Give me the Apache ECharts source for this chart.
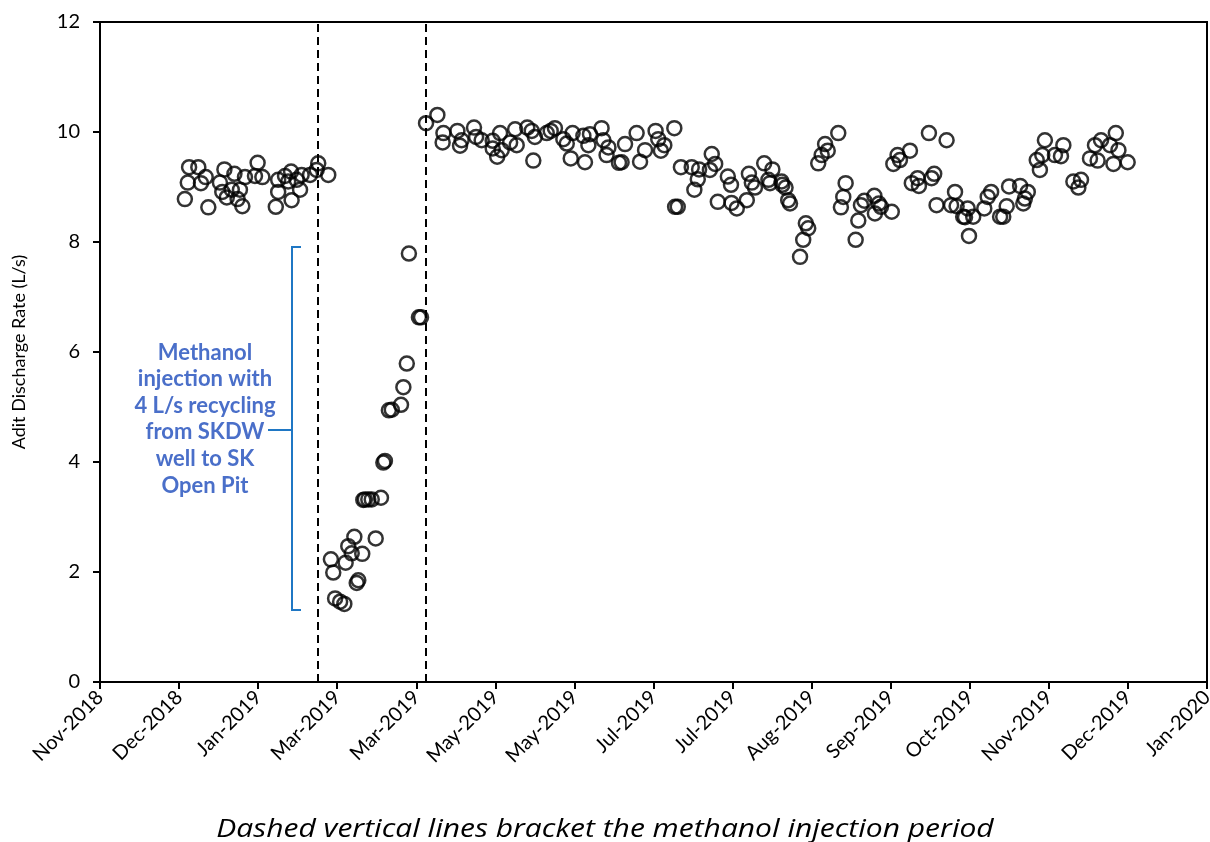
<!DOCTYPE html>
<html>
<head>
<meta charset="utf-8">
<script src="https://cdn.jsdelivr.net/npm/echarts@6/dist/echarts.min.js"></script>
<style>
html,body{margin:0;padding:0;background:#fff;}
#c{width:1210px;height:842px;}
</style>
</head>
<body>
<div id="c"></div>
<script>
// x = days from axis start (axis labels every 30 days)
const xTickLabels = ['Nov-2018','Dec-2018','Jan-2019','Mar-2019','Mar-2019','May-2019','May-2019','Jul-2019','Jul-2019','Aug-2019','Sep-2019','Oct-2019','Nov-2019','Dec-2019','Jan-2020'];
const injectionStartDay = 82.7;
const injectionEndDay = 123.7;

const preInjection = [
[33.8,9.36],[37.3,9.36],[33.3,9.08],[32.2,8.78],[38.3,9.07],[40.1,9.18],[41.1,8.63],[45.5,9.08],
[47.2,9.32],[46.4,8.91],[48.1,8.81],[51.0,9.24],[50.0,8.95],[53.1,8.95],[52.2,8.78],[54.0,8.65],
[55.0,9.18],[59.8,9.44],[58.8,9.20],[61.6,9.18],[67.6,9.13],[67.6,8.91],[66.7,8.64],[70.2,9.20],
[72.5,9.28],[71.4,9.10],[72.7,8.76],[74.6,9.13],[75.9,8.95],[76.5,9.22],[79.7,9.22],[82.2,9.31],
[82.8,9.43],[86.6,9.22]
];
const duringInjection = [
[87.6,2.23],[88.5,1.99],[89.2,1.52],[91.1,1.46],[92.7,1.42],[93.2,2.17],[94.2,2.47],[95.5,2.34],
[96.5,2.64],[97.4,1.80],[98.0,1.85],[99.5,2.33],[99.9,3.31],[100.5,3.32],[101.8,3.32],[103.1,3.32],
[104.6,2.61],[106.6,3.35],[107.5,3.99],[108.1,4.02],[109.6,4.94],[110.7,4.95],[114.2,5.04],[115.1,5.36],
[116.4,5.79],[117.2,7.79],[121.0,6.63],[121.8,6.63]
];
const postInjection = [
[123.7,10.16],[128.0,10.31],[130.3,9.98],[130.0,9.81],[135.6,10.02],[137.2,9.85],[136.6,9.75],[141.9,10.08],
[142.7,9.91],[144.8,9.85],[149.0,9.84],[151.8,9.98],[149.0,9.70],[152.4,9.67],[150.7,9.55],[155.6,9.81],
[157.5,10.05],[158.1,9.76],[162.1,10.08],[163.8,10.02],[165.0,9.91],[164.4,9.48],[169.5,9.98],[171.0,10.02],
[172.6,10.07],[177.1,9.79],[175.8,9.87],[179.3,9.98],[178.6,9.52],[183.4,9.93],[184.0,9.45],[185.9,9.96],
[185.3,9.76],[190.3,10.07],[191.0,9.85],[192.2,9.58],[192.9,9.72],[199.2,9.78],[197.9,9.45],[196.9,9.44],
[203.6,9.98],[206.8,9.67],[204.9,9.46],[210.8,10.02],[211.8,9.87],[214.1,9.76],[212.8,9.66],[217.9,10.07],
[218.2,8.64],[219.2,8.64],[220.4,9.36],[224.5,9.36],[227.3,9.32],[226.8,9.14],[225.5,8.95],[232.1,9.60],
[233.4,9.42],[231.4,9.31],[238.2,9.19],[239.4,9.04],[234.4,8.73],[239.6,8.71],[241.6,8.61],[245.4,8.76],
[246.2,9.24],[247.3,9.08],[248.5,8.99],[252.0,9.43],[255.1,9.32],[253.6,9.13],[254.2,9.07],[258.9,9.04],
[258.6,9.10],[260.1,8.99],[261.1,8.76],[261.8,8.70],[265.6,7.73],[266.8,8.04],[267.8,8.34],[268.7,8.25],
[272.5,9.43],[273.8,9.58],[275.1,9.78],[276.1,9.66],[280.1,9.98],[282.9,9.07],[282.0,8.82],[281.1,8.63],
[286.7,8.04],[287.7,8.39],[288.7,8.67],[290.0,8.75],[293.8,8.84],[294.0,8.52],[296.3,8.64],[295.5,8.70],
[300.4,8.55],[301.0,9.42],[302.6,9.58],[303.5,9.49],[307.3,9.66],[308.0,9.07],[310.2,9.16],[310.7,9.02],
[314.5,9.98],[315.5,9.16],[316.5,9.24],[321.2,9.85],[317.4,8.67],[322.9,8.67],[324.4,8.91],[325.0,8.65],
[327.5,8.46],[328.2,8.45],[329.2,8.61],[329.7,8.11],[331.3,8.46],[335.5,8.61],[336.8,8.82],[338.1,8.91],
[341.5,8.46],[342.7,8.46],[344.0,8.65],[344.9,9.01],[349.1,9.02],[352.0,8.91],[350.9,8.79],[350.3,8.70],
[355.4,9.49],[357.5,9.58],[356.6,9.31],[358.5,9.85],[362.3,9.58],[364.6,9.56],[365.5,9.76],[369.3,9.10],
[371.2,8.99],[372.2,9.13],[377.5,9.76],[379.8,9.85],[375.6,9.52],[378.5,9.48],[383.2,9.76],[386.4,9.67],
[385.4,9.98],[384.5,9.42],[389.9,9.45]
];
const allPoints = preInjection.concat(duringInjection, postInjection);

const chart = echarts.init(document.getElementById('c'), null, {renderer:'canvas'});
const FONT = 'Lato';
const option = {
  backgroundColor:'#fff',
  animation:false,
  textStyle:{fontFamily:FONT},
  grid:{left:100,right:3,top:22,bottom:160,containLabel:false,outerBoundsMode:'none',
        show:true,borderColor:'#000',borderWidth:2,backgroundColor:'transparent'},
  xAxis:{
    type:'value',min:0,max:420,interval:30,
    axisLine:{show:true,lineStyle:{color:'#000',width:2}},
    axisTick:{show:true,length:7,lineStyle:{color:'#000',width:2}},
    splitLine:{show:false},
    axisLabel:{
      rotate:45,color:'#000',fontSize:20,fontFamily:FONT,margin:12,hideOverlap:false,
      showMinLabel:true,showMaxLabel:true,
      formatter:function(v){return xTickLabels[Math.round(v/30)]||'';}
    }
  },
  yAxis:{
    type:'value',min:0,max:12,interval:2,
    name:'Adit Discharge Rate (L/s)',nameLocation:'middle',nameGap:72,
    nameTextStyle:{color:'#000',fontSize:18,fontFamily:FONT},
    axisLine:{show:true,lineStyle:{color:'#000',width:2}},
    axisTick:{show:true,length:7,lineStyle:{color:'#000',width:2}},
    splitLine:{show:false},
    axisLabel:{color:'#000',fontSize:20,fontFamily:FONT,margin:20}
  },
  series:[{
    type:'scatter',
    data:allPoints,
    symbol:'circle',symbolSize:14,
    itemStyle:{color:'rgba(0,0,0,0)',borderColor:'#000',borderWidth:2.5},
    markLine:{
      silent:true,symbol:['none','none'],
      label:{show:false},
      lineStyle:{color:'#000',type:[8,5],width:2},
      data:[{xAxis:injectionStartDay},{xAxis:injectionEndDay}]
    }
  }]
};
option.graphic = [
  {type:'text',x:205,y:419,style:{
    text:'Methanol\ninjection with\n4 L/s recycling\nfrom SKDW\nwell to SK\nOpen Pit',
    fill:'#4a6fc9',font:'bold 22px '+FONT,textAlign:'center',textVerticalAlign:'middle',lineHeight:26.6
  }},
  {type:'polyline',shape:{points:[[301,247],[292,247],[292,430],[268,430],[292,430],[292,610],[301,610]]},
    style:{stroke:'#1f77c4',lineWidth:2,fill:null}},
  {type:'text',x:605,y:830,scaleX:1.2,scaleY:1,style:{
    text:'Dashed vertical lines bracket the methanol injection period',
    fill:'#000',font:'italic 25px "Open Sans"',textAlign:'center',textVerticalAlign:'middle'
  }}
];
chart.setOption(option);
</script>
</body>
</html>
